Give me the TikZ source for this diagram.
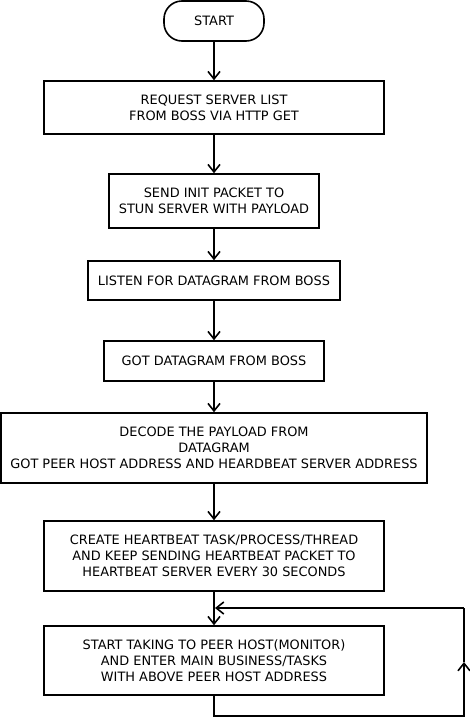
\documentclass[tikz,border=0pt]{standalone}
\usepackage{fontspec}
\setmainfont{DejaVu Sans}
\usepackage{tikz}
\usetikzlibrary{arrows.meta, positioning, calc}
\definecolor{linecolor}{RGB}{0,0,0}

\begin{document}
\begin{tikzpicture}[
    x=1pt, y=-1pt,
    stepbox/.style={draw=linecolor, line width=1.6pt, minimum width=#1, inner sep=0pt, font=\fontsize{12.9}{16}\selectfont, align=center},
    terminal/.style={draw=linecolor, line width=1.6pt, rounded corners=18pt, minimum width=100pt, minimum height=40pt, inner sep=0pt, font=\fontsize{12.9}{16}\selectfont},
    flow/.style={line width=1.6pt, draw=linecolor, -{Straight Barb[length=7.5pt, width=12pt, line width=1.6pt]}},
    plain/.style={line width=1.6pt, draw=linecolor}
]
    \useasboundingbox (0,0) rectangle (470,718);

    % Start
    \node[terminal] (start) at (214,21) {START};

    % Steps
    \node[stepbox=340pt, minimum height=53pt] (req) at (214,107.5) {REQUEST SERVER LIST\\FROM BOSS VIA HTTP GET};
    \node[stepbox=210pt, minimum height=54pt] (init) at (214,201) {SEND INIT PACKET TO\\STUN SERVER WITH PAYLOAD};
    \node[stepbox=252pt, minimum height=39pt] (listen) at (214,280.5) {LISTEN FOR DATAGRAM FROM BOSS};
    \node[stepbox=220pt, minimum height=40pt] (got) at (214,361) {GOT DATAGRAM FROM BOSS};
    \node[stepbox=426pt, minimum height=70pt] (decode) at (214,448) {DECODE THE PAYLOAD FROM\\DATAGRAM\\GOT PEER HOST ADDRESS AND HEARDBEAT SERVER ADDRESS};
    \node[stepbox=340pt, minimum height=70pt] (beat) at (214,556) {CREATE HEARTBEAT TASK/PROCESS/THREAD\\AND KEEP SENDING HEARTBEAT PACKET TO\\ HEARTBEAT SERVER EVERY 30 SECONDS};
    \node[stepbox=340pt, minimum height=69pt] (main) at (214,660.5) {START TAKING TO PEER HOST(MONITOR)\\AND ENTER MAIN BUSINESS/TASKS\\ WITH ABOVE PEER HOST ADDRESS};

    % Connections
    \draw[flow] (start) -- (req);
    \draw[flow] (req) -- (init);
    \draw[flow] (init) -- (listen);
    \draw[flow] (listen) -- (got);
    \draw[flow] (got) -- (decode);
    \draw[flow] (decode) -- (beat);
    \draw[flow] (beat) -- (main);

    % Loop back
    \coordinate (loopbot) at (464,716);
    \coordinate (looptop) at (464,608);
    \coordinate (loopin) at (215,608);
    \coordinate (loopmid) at ($(loopbot)!0.5!(looptop)$);
    \draw[flow] (main.south) |- (loopbot) -- (loopmid);
    \draw[plain] (loopmid) -- (looptop);
    \draw[flow] (looptop) -- (loopin);
\end{tikzpicture}
\end{document}
